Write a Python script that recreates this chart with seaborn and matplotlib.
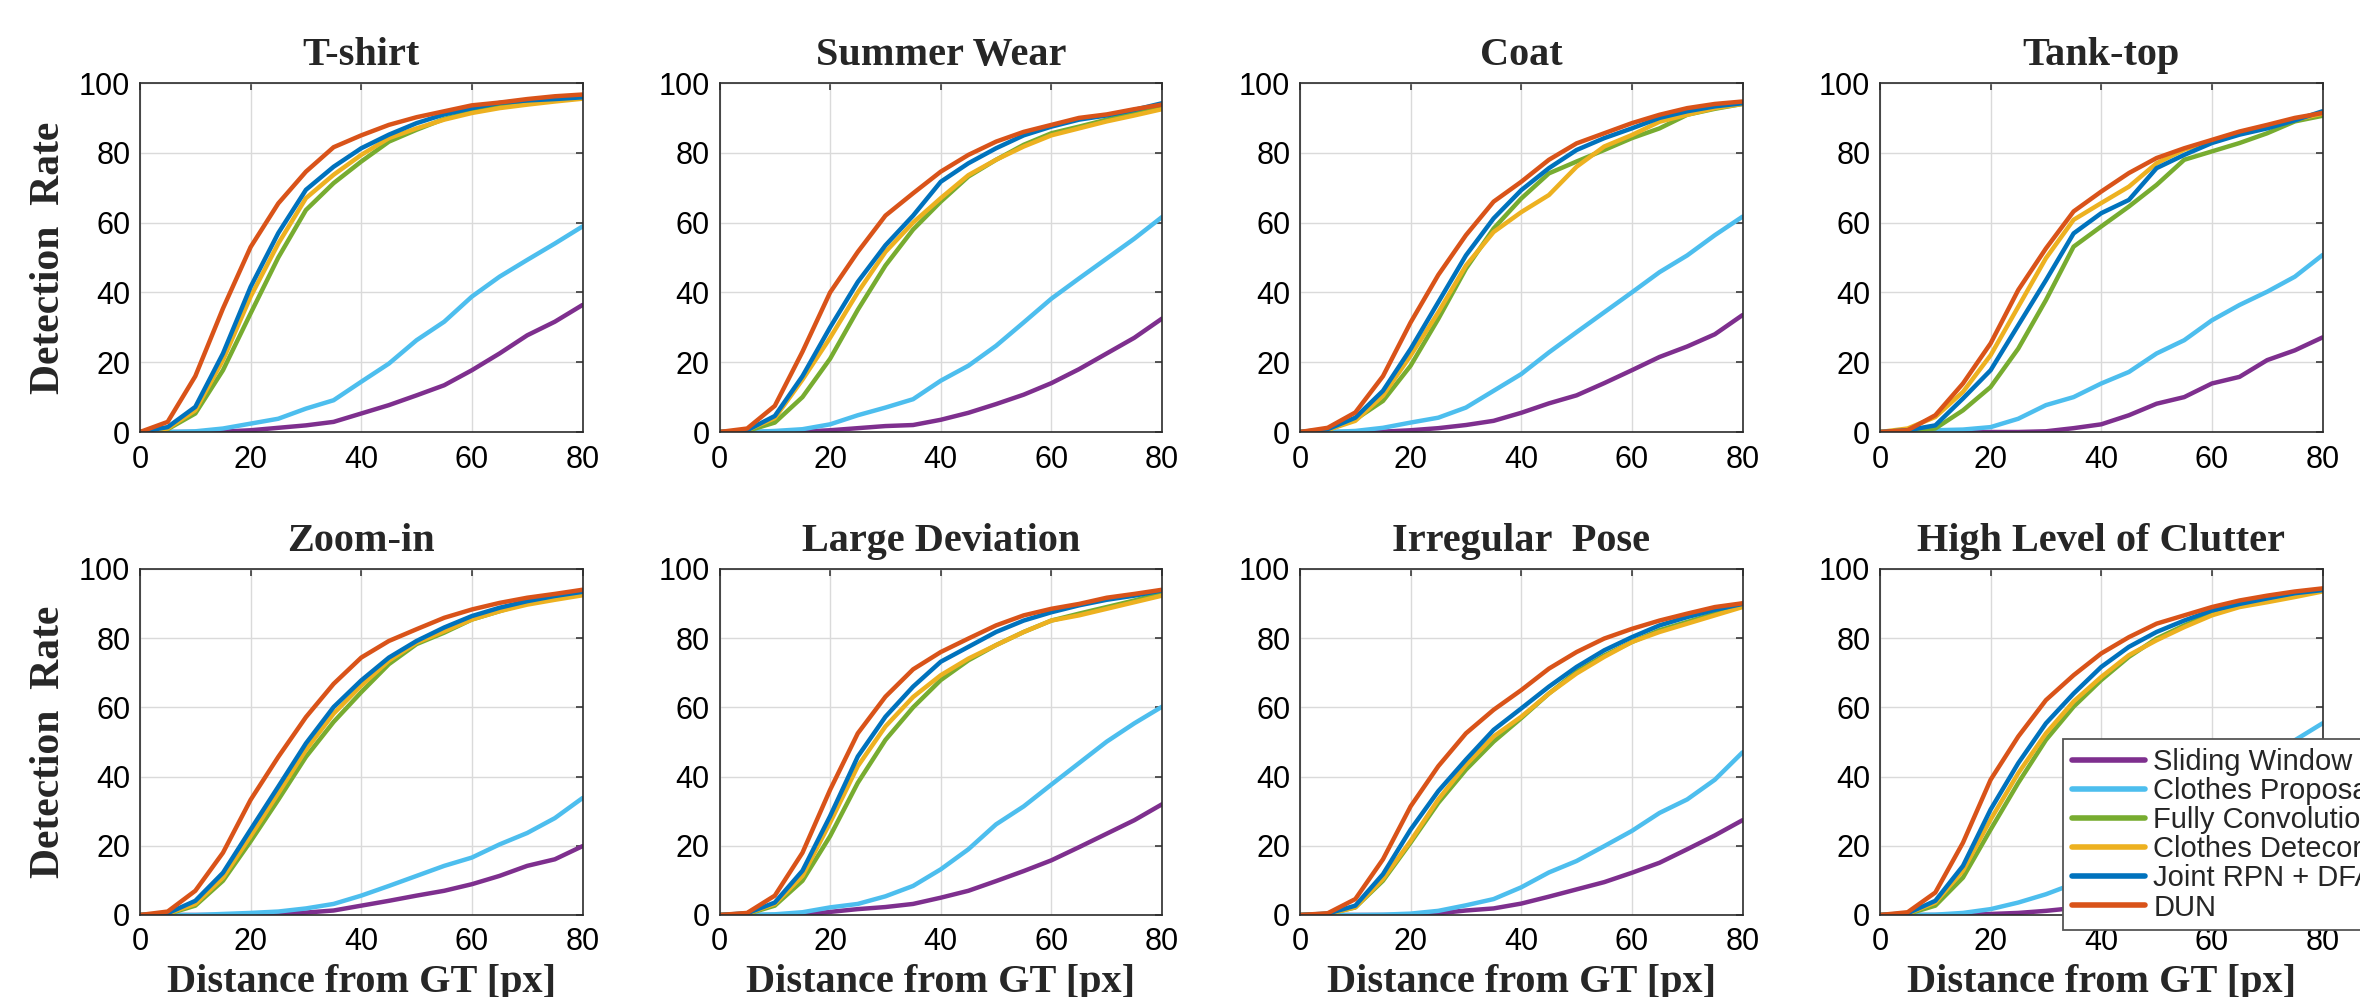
import matplotlib
matplotlib.use("Agg")
import matplotlib.pyplot as plt
import seaborn as sns
import pandas as pd

# distance thresholds (px) at which the detection rate was read
DIST = [0, 5, 10, 15, 20, 25, 30, 35, 40, 45, 50, 55, 60, 65, 70, 75, 80]

METHODS = ["Sliding Window + DFA", "Clothes Proposal + DFA", "Fully Convolutional Regression",
           "Clothes Detecor + DFA", "Joint RPN + DFA", "DUN"]
COLORS = ["#7E2F8E", "#4DBEEE", "#77AC30", "#EDB120", "#0072BD", "#D95319"]

TITLES = ["T-shirt", "Summer Wear", "Coat", "Tank-top",
          "Zoom-in", "Large Deviation", "Irregular  Pose", "High Level of Clutter"]

# one row per method, same order as METHODS
TSHIRT = [
    [0, 0, 0, 0.1, 0.5, 1.2, 1.9, 2.9, 5.3, 7.7, 10.5, 13.4, 17.7, 22.5, 27.7, 31.6, 36.4],
    [0, 0, 0.2, 1.0, 2.4, 3.8, 6.7, 9.1, 14.4, 19.6, 26.3, 31.6, 38.8, 44.5, 49.3, 54.0, 58.9],
    [0, 0.8, 5.3, 17.7, 34.0, 50.0, 63.6, 71.3, 77.5, 83.2, 86.6, 89.7, 91.9, 93.3, 94.3, 95.0, 95.7],
    [0, 1.0, 6.2, 20.6, 38.8, 54.0, 67.0, 73.7, 79.4, 84.2, 87.0, 89.5, 91.4, 92.8, 93.8, 94.7, 95.5],
    [0, 1.4, 7.2, 22.5, 41.6, 57.0, 69.4, 76.0, 81.3, 85.2, 88.5, 91.0, 92.8, 94.3, 95.0, 95.4, 95.9],
    [0, 2.9, 16.0, 35.4, 53.0, 65.5, 74.6, 81.6, 85.0, 88.0, 90.2, 91.9, 93.6, 94.4, 95.4, 96.2, 96.7],
]
SUMMER = [
    [0, 0, 0, 0.1, 0.5, 1.1, 1.7, 2.0, 3.5, 5.5, 8.0, 10.7, 14.0, 18.0, 22.5, 27.0, 32.5],
    [0, 0, 0.3, 0.8, 2.2, 4.8, 7.0, 9.4, 14.7, 19.0, 24.7, 31.4, 38.2, 44.0, 49.7, 55.4, 61.6],
    [0, 0.3, 2.7, 10.0, 21.0, 35.0, 47.7, 58.0, 66.0, 73.2, 78.0, 82.3, 85.6, 87.5, 89.5, 91.4, 93.3],
    [0, 0.5, 4.0, 15.0, 27.0, 40.0, 51.6, 60.0, 67.0, 73.6, 78.0, 81.8, 85.0, 87.0, 89.0, 90.7, 92.5],
    [0, 0.5, 4.6, 16.0, 30.0, 43.0, 53.5, 62.0, 71.7, 77.0, 81.3, 85.0, 87.5, 89.5, 90.7, 92.3, 94.2],
    [0, 1.0, 7.5, 23.0, 40.0, 51.6, 62.0, 68.4, 74.6, 79.4, 83.2, 86.0, 88.0, 90.0, 91.0, 92.5, 93.8],
]
COAT = [
    [0, 0, 0, 0.1, 0.5, 1.1, 2.0, 3.2, 5.5, 8.2, 10.5, 14.0, 17.7, 21.5, 24.5, 28.0, 33.5],
    [0, 0, 0.3, 1.2, 2.7, 4.1, 7.0, 11.8, 16.6, 22.8, 28.6, 34.3, 40.0, 45.8, 50.6, 56.4, 61.7],
    [0, 0.6, 3.6, 8.9, 19.0, 32.4, 46.8, 58.3, 66.9, 74.1, 77.5, 80.8, 84.2, 87.0, 90.9, 92.6, 94.0],
    [0, 0.6, 3.2, 10.4, 21.9, 34.3, 47.7, 57.3, 63.0, 67.9, 76.0, 81.8, 85.1, 88.9, 90.9, 92.8, 94.0],
    [0, 0.8, 4.1, 11.8, 23.8, 37.2, 50.6, 61.2, 69.3, 75.6, 80.8, 84.2, 87.0, 90.0, 91.9, 93.3, 94.2],
    [0, 1.2, 5.6, 16.0, 31.4, 45.0, 56.4, 66.0, 71.7, 78.0, 82.7, 85.6, 88.5, 90.9, 92.8, 94.0, 94.7],
]
TANK = [
    [0, 0, 0, 0, 0, 0, 0.2, 1.1, 2.2, 4.8, 8.1, 10.0, 13.9, 15.8, 20.6, 23.4, 27.1],
    [0, 0, 0.5, 0.7, 1.4, 3.8, 7.7, 10.0, 13.9, 17.2, 22.5, 26.3, 32.0, 36.4, 40.2, 44.5, 50.7],
    [0, 0.2, 1.0, 6.2, 12.9, 23.9, 37.8, 53.1, 58.9, 64.6, 70.8, 78.0, 80.4, 82.8, 85.6, 89.0, 90.6],
    [0, 1.0, 4.3, 11.5, 22.0, 35.9, 49.8, 60.8, 65.6, 70.3, 77.0, 80.9, 83.3, 85.6, 87.6, 89.5, 91.2],
    [0, 0.5, 1.9, 9.6, 17.7, 30.6, 43.5, 56.9, 62.7, 66.5, 75.6, 79.4, 82.8, 85.2, 87.0, 89.3, 91.9],
    [0, 0.5, 4.8, 13.9, 25.4, 40.7, 52.6, 63.2, 68.9, 74.2, 78.5, 81.3, 83.7, 86.1, 88.0, 90.0, 91.4],
]
ZOOMIN = [
    [0, 0, 0, 0, 0.1, 0.3, 0.7, 1.3, 2.7, 4.1, 5.6, 7.0, 8.9, 11.3, 14.2, 16.1, 19.9],
    [0, 0, 0, 0.3, 0.6, 1.0, 1.9, 3.2, 5.6, 8.4, 11.3, 14.2, 16.6, 20.4, 23.7, 28.0, 33.8],
    [0, 0.3, 2.7, 9.9, 21.3, 33.3, 45.7, 55.8, 64.4, 72.5, 78.3, 81.6, 85.4, 87.8, 90.2, 91.4, 93.1],
    [0, 0.4, 3.2, 10.8, 22.8, 35.2, 47.7, 58.2, 66.3, 73.5, 78.7, 82.0, 85.4, 87.8, 89.7, 91.1, 92.4],
    [0, 0.5, 4.1, 12.2, 24.7, 37.1, 49.6, 60.1, 67.8, 74.4, 79.2, 83.1, 86.4, 88.8, 90.7, 92.2, 93.4],
    [0, 1.0, 7.0, 18.0, 33.3, 45.7, 57.2, 66.8, 74.4, 79.2, 82.6, 85.9, 88.3, 90.2, 91.7, 92.8, 94.0],
]
LARGE = [
    [0, 0, 0, 0.1, 0.9, 1.7, 2.3, 3.2, 5.0, 7.0, 9.8, 12.7, 15.8, 19.6, 23.5, 27.4, 32.0],
    [0, 0, 0.2, 0.8, 2.2, 3.2, 5.4, 8.4, 13.2, 19.0, 26.2, 31.4, 37.7, 43.9, 50.1, 55.4, 60.2],
    [0, 0.3, 2.7, 9.9, 22.8, 38.2, 50.6, 60.0, 67.9, 73.6, 78.0, 81.8, 85.1, 87.1, 89.0, 90.9, 93.0],
    [0, 0.4, 3.2, 11.3, 26.7, 43.0, 54.5, 63.0, 69.3, 74.1, 78.0, 81.8, 85.1, 86.6, 88.5, 90.4, 92.3],
    [0, 0.5, 3.6, 12.8, 28.6, 45.8, 57.3, 66.0, 73.2, 77.5, 81.8, 85.1, 87.5, 89.5, 91.1, 92.3, 93.8],
    [0, 0.6, 5.6, 18.0, 36.2, 52.5, 63.1, 71.0, 76.0, 79.9, 83.7, 86.6, 88.5, 89.9, 91.7, 92.8, 94.0],
]
IRREG = [
    [0, 0, 0, 0, 0, 0.5, 1.3, 1.9, 3.3, 5.3, 7.4, 9.5, 12.2, 15.1, 19.0, 23.0, 27.4],
    [0, 0, 0, 0.1, 0.4, 1.2, 2.8, 4.6, 8.0, 12.3, 15.6, 19.9, 24.3, 29.5, 33.4, 39.1, 47.0],
    [0, 0.3, 2.2, 9.9, 20.9, 32.4, 42.0, 50.1, 56.9, 64.0, 70.3, 75.0, 78.9, 82.3, 84.7, 87.1, 89.5],
    [0, 0.3, 2.2, 10.4, 21.4, 33.4, 43.4, 51.6, 57.3, 64.0, 69.8, 74.6, 78.9, 81.8, 84.2, 86.6, 89.0],
    [0, 0.4, 2.7, 11.8, 24.7, 35.8, 44.9, 53.5, 59.7, 66.0, 71.7, 76.5, 80.3, 83.7, 86.1, 88.2, 89.9],
    [0, 0.5, 4.6, 16.1, 31.4, 43.0, 52.5, 59.3, 65.0, 71.2, 76.0, 79.9, 82.7, 85.1, 87.1, 89.0, 90.1],
]
CLUTTER = [
    [0, 0, 0, 0.1, 0.3, 0.6, 1.2, 2.0, 3.5, 5.0, 7.0, 9.5, 12.5, 16.0, 20.0, 24.0, 28.5],
    [0, 0, 0.1, 0.6, 1.7, 3.6, 6.0, 9.0, 12.5, 16.5, 21.0, 26.0, 31.5, 37.5, 44.0, 50.5, 55.4],
    [0, 0.3, 2.7, 10.8, 24.7, 38.2, 50.6, 60.2, 67.9, 74.6, 79.9, 83.7, 87.1, 89.2, 91.1, 92.5, 93.8],
    [0, 0.4, 3.6, 12.8, 27.6, 41.0, 52.5, 61.7, 68.8, 75.1, 79.4, 83.2, 86.6, 89.0, 90.4, 91.9, 93.5],
    [0, 0.5, 4.1, 14.2, 30.5, 43.9, 55.4, 64.0, 71.7, 77.5, 81.8, 85.1, 88.0, 89.9, 91.5, 93.0, 93.9],
    [0, 0.8, 6.5, 20.9, 39.1, 51.6, 62.1, 69.3, 75.6, 80.3, 84.2, 86.6, 89.0, 90.9, 92.3, 93.5, 94.4],
]
PANELS = [TSHIRT, SUMMER, COAT, TANK, ZOOMIN, LARGE, IRREG, CLUTTER]

sns.set_theme(style="whitegrid", rc={
    "grid.color": "#dadada", "grid.linewidth": 1.0,
    "axes.edgecolor": "#2b2b2b", "axes.linewidth": 1.2,
    "xtick.color": "#2b2b2b", "ytick.color": "#2b2b2b",
    "xtick.labelcolor": "black", "ytick.labelcolor": "black",
})
plt.rcParams["font.family"] = ["Liberation Sans", "DejaVu Sans"]

W, H = 2360, 997
fig = plt.figure(figsize=(W / 100, H / 100), dpi=100)

col_left = [140, 719.5, 1300, 1880]
row_top = [83, 569]
row_bot = [432, 915]
ax_w = 442.5

serif_bold = dict(family="Liberation Serif", weight="bold")

axes = []
for i, (title, panel) in enumerate(zip(TITLES, PANELS)):
    r, c = divmod(i, 4)
    ax = fig.add_axes([col_left[c] / W, 1 - row_bot[r] / H, ax_w / W,
                       (row_bot[r] - row_top[r]) / H])
    df = pd.DataFrame({
        "dist": DIST * len(METHODS),
        "rate": [v for row in panel for v in row],
        "method": [m for m in METHODS for _ in DIST],
    })
    sns.lineplot(data=df, x="dist", y="rate", hue="method", hue_order=METHODS,
                 palette=COLORS, linewidth=3.2, errorbar=None, legend=False, ax=ax)
    ax.set_xlim(0, 80)
    ax.set_ylim(0, 100)
    ax.set_xticks(range(0, 81, 20))
    ax.set_yticks(range(0, 101, 20))
    ax.tick_params(direction="in", top=True, right=True, length=5, width=1.1,
                   labelsize=22)
    ax.tick_params(axis="x", pad=9)
    ax.tick_params(axis="y", pad=7)
    for s in ax.spines.values():
        s.set_visible(True)
    ax.set_title(title, fontsize=29, pad=13, **serif_bold)
    ax.set_xlabel("Distance from GT [px]" if r == 1 else "", fontsize=29,
                  labelpad=5, **serif_bold)
    ax.set_ylabel("Detection  Rate" if c == 0 else "", fontsize=30,
                  labelpad=8, **serif_bold)
    axes.append(ax)

last = axes[-1]
leg = last.legend(last.get_lines()[:6], METHODS, loc="upper left",
                  bbox_to_anchor=(2063 / W, 1 - 739 / H), bbox_transform=fig.transFigure,
                  frameon=True, fancybox=False, framealpha=1, edgecolor="#555555",
                  borderaxespad=0, borderpad=0.3, labelspacing=0.04,
                  handlelength=2.5, handletextpad=0.3, fontsize=21)
leg.get_frame().set_linewidth(1.3)
for h in leg.get_lines():
    h.set_linewidth(4)

fig.savefig("out.png", dpi=100)
